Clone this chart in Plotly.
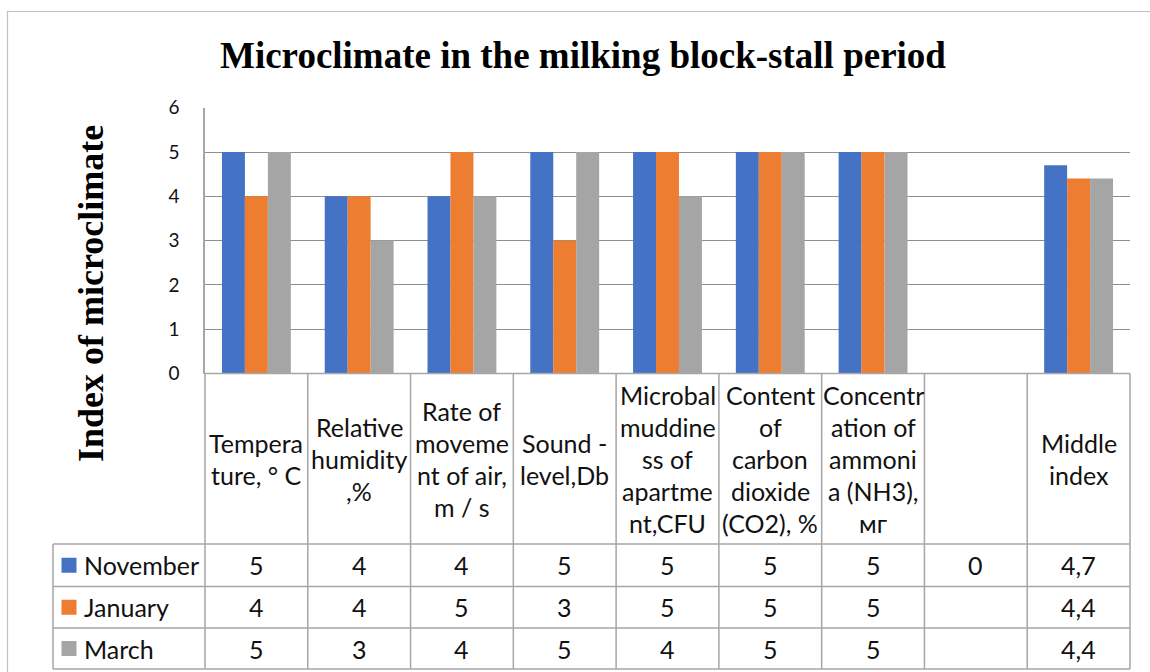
import plotly.graph_objects as go

# ---------------- data ----------------
categories = ["Temperature, ° C", "Relative humidity,%", "Rate of movement of air, m / s",
              "Sound - level,Db", "Microbal muddiness of apartment,CFU",
              "Content of carbon dioxide (CO2), %", "Concentration of ammonia (NH3), мг",
              "", "Middle index"]
header_labels = ["Tempera<br>ture, ° C", "Relative<br>humidity<br>,%",
                 "Rate of<br>moveme<br>nt of air,<br>m / s", "Sound -<br>level,Db",
                 "Microbal<br>muddine<br>ss of<br>apartme<br>nt,CFU",
                 "Content<br>of<br>carbon<br>dioxide<br>(CO2), %",
                 "Concentr<br>ation of<br>ammoni<br>a (NH3),<br>мг",
                 "", "Middle<br>index"]
series_names = ["November", "January", "March"]
november = [5, 4, 4, 5, 5, 5, 5, 0, 4.7]
january = [4, 4, 5, 3, 5, 5, 5, None, 4.4]
march = [5, 3, 4, 5, 4, 5, 5, None, 4.4]
series_values = [november, january, march]
colors = ["#4472C4", "#ED7D31", "#A5A5A5"]
y_ticks = [0, 1, 2, 3, 4, 5, 6]
title_text = "Microclimate in the milking block-stall period"
y_title = "Index of microclimate"

# ---------------- layout geometry (pixels) ----------------
W, H = 1150, 672
PX0, PX1 = 205, 1130          # plot area left/right
PY_TOP, PY_BOT = 107.7, 373.5  # y=6 and y=0
HEAD_BOT = 544
ROW_LINES = [544, 586.5, 628, 669]
TABLE_LEFT = 53
GRID = "#a6a6a6"
FONT = "Lato"
TFS = 25

def fx(px):
    return px / W

def fy(py):
    return 1 - py / H

x_pos = list(range(len(categories)))

fig = go.Figure()
for name, vals, col in zip(series_names, series_values, colors):
    fig.add_trace(go.Bar(x=x_pos, y=vals, name=name, marker=dict(color=col, line=dict(width=0)),
                         showlegend=False, hoverinfo="skip"))

shapes = []
annotations = []

# table lines
ncol = len(categories)
cw = (PX1 - PX0) / ncol
col_edges = [PX0 + i * cw for i in range(ncol + 1)]
for xe in col_edges:
    shapes.append(dict(type="line", xref="paper", yref="paper", x0=fx(xe), x1=fx(xe),
                       y0=fy(PY_BOT), y1=fy(ROW_LINES[-1]), line=dict(color=GRID, width=1.5)))
shapes.append(dict(type="line", xref="paper", yref="paper", x0=fx(TABLE_LEFT), x1=fx(TABLE_LEFT),
                   y0=fy(ROW_LINES[0]), y1=fy(ROW_LINES[-1]), line=dict(color=GRID, width=1.5)))
for ry in ROW_LINES:
    shapes.append(dict(type="line", xref="paper", yref="paper", x0=fx(TABLE_LEFT), x1=fx(PX1),
                       y0=fy(ry), y1=fy(ry), line=dict(color=GRID, width=1.5)))
shapes.append(dict(type="line", xref="paper", yref="paper", x0=fx(PX0), x1=fx(PX1),
                   y0=fy(PY_BOT), y1=fy(PY_BOT), line=dict(color=GRID, width=1.5)))

# outer border (right and bottom edges lie outside the picture)
shapes.append(dict(type="rect", xref="paper", yref="paper", x0=fx(7.5), x1=fx(1170),
                   y0=fy(700), y1=fy(11.5), line=dict(color="#bfbfbf", width=1.2),
                   fillcolor="rgba(0,0,0,0)", layer="below"))

# header labels (each line placed separately)
LINE_H = 32
HEAD_MID = (PY_BOT + HEAD_BOT) / 2
for i, lab in enumerate(header_labels):
    if not lab:
        continue
    lines = lab.split("<br>")
    n = len(lines)
    cx = PX0 + (i + 0.5) * cw
    for j, ln in enumerate(lines):
        yy = HEAD_MID + (j - (n - 1) / 2) * LINE_H
        annotations.append(dict(x=fx(cx), y=fy(yy), xref="paper", yref="paper", text=ln,
                                showarrow=False, xanchor="center", yanchor="middle",
                                font=dict(family=FONT, size=TFS, color="#111")))

def fmt(v):
    if v is None:
        return ""
    if float(v).is_integer():
        return str(int(v))
    return str(v).replace(".", ",")

# data rows
for r, (name, vals, col) in enumerate(zip(series_names, series_values, colors)):
    ry = (ROW_LINES[r] + ROW_LINES[r + 1]) / 2
    shapes.append(dict(type="rect", xref="paper", yref="paper", x0=fx(61.5), x1=fx(76.5),
                       y0=fy(ry + 7.5), y1=fy(ry - 7.5), line=dict(width=0), fillcolor=col))
    annotations.append(dict(x=fx(82), y=fy(ry), xref="paper", yref="paper", text=name,
                            showarrow=False, xanchor="left", yanchor="middle",
                            font=dict(family=FONT, size=TFS, color="#111")))
    for i, v in enumerate(vals):
        t = fmt(v)
        if not t:
            continue
        cx = PX0 + (i + 0.5) * cw
        annotations.append(dict(x=fx(cx), y=fy(ry), xref="paper", yref="paper", text=t,
                                showarrow=False, xanchor="center", yanchor="middle",
                                font=dict(family=FONT, size=TFS, color="#111")))

# title and y-axis title
annotations.append(dict(x=fx(583), y=fy(55), xref="paper", yref="paper", text="<b>" + title_text + "</b>",
                        showarrow=False, xanchor="center", yanchor="middle",
                        font=dict(family="Liberation Serif", size=37, color="#000")))
annotations.append(dict(x=fx(91), y=fy(294), xref="paper", yref="paper", text="<b>" + y_title + "</b>",
                        showarrow=False, xanchor="center", yanchor="middle", textangle=-90,
                        font=dict(family="Liberation Serif", size=36, color="#000")))

fig.update_layout(
    width=W, height=H, margin=dict(l=0, r=0, t=0, b=0, autoexpand=False),
    paper_bgcolor="white", plot_bgcolor="white",
    barmode="group", bargap=0.33, bargroupgap=0,
    xaxis=dict(domain=[fx(PX0), fx(PX1)], range=[-0.5, len(categories) - 0.5],
               showticklabels=False, showgrid=False, zeroline=False, showline=False, ticks="",
               automargin=False),
    yaxis=dict(domain=[fy(PY_BOT), fy(PY_TOP)], range=[0, 6], tickvals=y_ticks,
               showgrid=True, gridcolor="#8f8f8f", gridwidth=1.2, zeroline=False,
               showline=True, linecolor=GRID, linewidth=1.5, ticks="",
               ticklabelstandoff=20, automargin=False,
               tickfont=dict(family=FONT, size=19, color="#111")),
    shapes=shapes, annotations=annotations,
)

fig.write_html("out.html", config={"displayModeBar": False},
               post_script="document.body.style.margin='0';document.body.style.overflow='hidden';")
